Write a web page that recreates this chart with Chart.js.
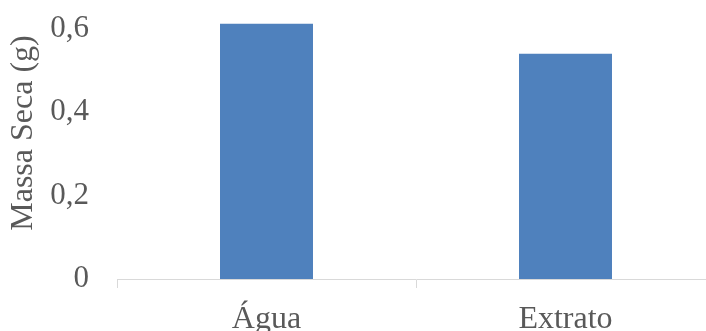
<!DOCTYPE html>
<html>
<head>
<meta charset="utf-8">
<script src="https://cdn.jsdelivr.net/npm/chart.js@4"></script>
<style>
  html, body { margin: 0; padding: 0; overflow: hidden; background: #fff; }
  #wrap { width: 716px; height: 357px; margin-top: -17px; }
</style>
</head>
<body>
<div id="wrap"><canvas id="massaChart"></canvas></div>
<script>
// massa seca por tratamento
const tratamentos = ['Água', 'Extrato'];
const massaSeca = [0.612, 0.54];
const yTicks = [0, 0.2, 0.4, 0.6];

const cinza = '#595959';
const fonte = 'Liberation Serif, Times New Roman, serif';

new Chart(document.getElementById('massaChart'), {
  type: 'bar',
  data: {
    labels: tratamentos,
    datasets: [{
      data: massaSeca,
      backgroundColor: '#4F81BD',
      borderWidth: 0,
      barPercentage: 0.311,
      categoryPercentage: 1
    }]
  },
  options: {
    responsive: true,
    maintainAspectRatio: false,
    animation: false,
    layout: { padding: { top: 4, left: 0, right: 1, bottom: 0 } },
    plugins: { legend: { display: false }, tooltip: { enabled: false } },
    scales: {
      x: {
        offset: true,
        grid: { display: true, offset: true, drawOnChartArea: false, drawTicks: true, tickLength: 9, color: '#D9D9D9' },
        border: { display: true, color: '#D9D9D9', width: 1 },
        ticks: { color: cinza, padding: 12, font: { family: fonte, size: 32 } },
        afterFit: axis => { axis.height = 61; }
      },
      y: {
        min: 0,
        max: 0.7,
        grid: { display: false, drawTicks: false },
        border: { display: false },
        afterBuildTicks: axis => { axis.ticks = yTicks.map(v => ({ value: v })); },
        afterFit: axis => {
          // largura fixa do eixo e sem folga extra em cima/embaixo
          axis.width = 117;
          axis.paddingTop = 0;
          axis.paddingBottom = 0;
        },
        ticks: {
          color: cinza,
          padding: 28,
          font: { family: fonte, size: 31 },
          callback: v => String(v).replace('.', ',')
        },
        title: {
          display: true,
          text: 'Massa Seca (g)',
          color: cinza,
          font: { family: fonte, size: 32 },
          padding: { top: 4, bottom: 8 }
        }
      }
    }
  }
});
</script>
</body>
</html>
